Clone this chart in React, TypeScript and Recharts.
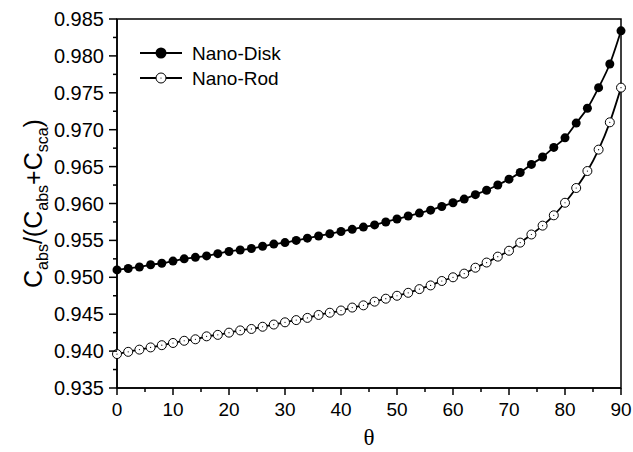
import { LineChart, Line, XAxis, YAxis, Legend, ReferenceArea } from 'recharts'

const theta = [
  0, 2, 4, 6, 8, 10, 12, 14, 16, 18, 20, 22, 24, 26, 28, 30, 32, 34, 36, 38, 40, 42, 44,
  46, 48, 50, 52, 54, 56, 58, 60, 62, 64, 66, 68, 70, 72, 74, 76, 78, 80, 82, 84, 86, 88, 90,
]

const nanoDisk = [
  0.951, 0.9512, 0.9514, 0.9517, 0.9519, 0.9522, 0.9525, 0.9527, 0.9529, 0.9532, 0.9535,
  0.9537, 0.9539, 0.9542, 0.9545, 0.9547, 0.955, 0.9553, 0.9556, 0.9559, 0.9562, 0.9565,
  0.9568, 0.9571, 0.9575, 0.9579, 0.9583, 0.9587, 0.9591, 0.9596, 0.9601, 0.9606, 0.9612,
  0.9618, 0.9625, 0.9633, 0.9642, 0.9653, 0.9663, 0.9676, 0.9689, 0.9709, 0.9729, 0.9757,
  0.9789, 0.9834,
]

const nanoRod = [
  0.9396, 0.9399, 0.9402, 0.9405, 0.9408, 0.9411, 0.9414, 0.9416, 0.942, 0.9422, 0.9425,
  0.9428, 0.943, 0.9433, 0.9436, 0.9439, 0.9442, 0.9445, 0.9449, 0.9452, 0.9455, 0.9459,
  0.9462, 0.9467, 0.9471, 0.9475, 0.9479, 0.9484, 0.9489, 0.9495, 0.95, 0.9505, 0.9513,
  0.952, 0.9528, 0.9536, 0.9547, 0.9558, 0.957, 0.9584, 0.9601, 0.9621, 0.9644, 0.9673,
  0.971, 0.9757,
]

const xTicks = [0, 5, 10, 15, 20, 25, 30, 35, 40, 45, 50, 55, 60, 65, 70, 75, 80, 85, 90]
const yTicks = [
  0.935, 0.9375, 0.94, 0.9425, 0.945, 0.9475, 0.95, 0.9525, 0.955, 0.9575, 0.96, 0.9625,
  0.965, 0.9675, 0.97, 0.9725, 0.975, 0.9775, 0.98, 0.9825, 0.985,
]

const data = theta.map((t, i) => ({ theta: t, disk: nanoDisk[i], rod: nanoRod[i] }))

const FONT = '"Liberation Sans", Arial, sans-serif'

function XTick({ x, y, payload }: any) {
  const v = payload.value as number
  const major = v % 10 === 0
  return (
    <g>
      <line x1={x} x2={x} y1={y} y2={y + (major ? 7 : 4)} stroke="#000" strokeWidth={1.5} />
      {major && (
        <text x={x} y={y + 28} textAnchor="middle" fontSize={19} fontFamily={FONT} fill="#000">
          {v}
        </text>
      )}
    </g>
  )
}

function YTick({ x, y, payload }: any) {
  const v = payload.value as number
  const major = Math.round(v * 10000) % 50 === 0
  return (
    <g>
      <line x1={x - (major ? 8 : 4)} x2={x} y1={y} y2={y} stroke="#000" strokeWidth={1.5} />
      {major && (
        <text x={x - 13} y={y + 7} textAnchor="end" fontSize={20} fontFamily={FONT} fill="#000">
          {v.toFixed(3)}
        </text>
      )}
    </g>
  )
}

function OpenDot({ cx, cy, index }: any) {
  return (
    <g key={`rod-${index}`}>
      <circle cx={cx} cy={cy} r={4.5} fill="#fff" stroke="#000" strokeWidth={1} />
      <circle cx={cx} cy={cy} r={0.6} fill="#000" />
    </g>
  )
}

function LegendBox({ payload }: any) {
  const items = payload ?? []
  return (
    <svg width={200} height={60} style={{ display: 'block' }}>
      {items.map((p: any, i: number) => {
        const y = 15 + i * 25
        const filled = p.dataKey === 'disk'
        return (
          <g key={p.value}>
            <line x1={10} x2={52} y1={y} y2={y} stroke="#000" strokeWidth={1.8} />
            {filled ? (
              <circle cx={31} cy={y} r={5.5} fill="#000" />
            ) : (
              <>
                <circle cx={31} cy={y} r={5} fill="#fff" stroke="#000" strokeWidth={1} />
                <circle cx={31} cy={y} r={0.6} fill="#000" />
              </>
            )}
            <text x={62} y={y + 7} fontSize={19} fontFamily={FONT} fill="#000">
              {p.value}
            </text>
          </g>
        )
      })}
    </svg>
  )
}

function YTitle({ viewBox }: any) {
  const cx = 42
  const cy = viewBox.y + viewBox.height / 2
  return (
    <text
      x={cx}
      y={cy}
      transform={`rotate(-90 ${cx} ${cy})`}
      textAnchor="middle"
      fontFamily={FONT}
      fontSize={25}
      fill="#000"
    >
      <tspan>C</tspan>
      <tspan fontSize={16} dy={6}>abs</tspan>
      <tspan dy={-6}>/(C</tspan>
      <tspan fontSize={16} dy={6}>abs</tspan>
      <tspan dy={-6}>+C</tspan>
      <tspan fontSize={16} dy={6}>sca</tspan>
      <tspan dy={-6}>)</tspan>
    </text>
  )
}

function XTitle({ viewBox }: any) {
  return (
    <text
      x={viewBox.x + viewBox.width / 2}
      y={viewBox.y + 57}
      textAnchor="middle"
      fontFamily='"Liberation Serif", "Times New Roman", serif'
      fontSize={23}
      fill="#000"
    >
      θ
    </text>
  )
}

export default function App() {
  return (
    <div style={{ position: 'absolute', left: 0, top: 0, background: '#fff' }}>
      <LineChart width={633} height={452} data={data} margin={{ top: 19, right: 12, bottom: 0, left: 0 }}>
        <XAxis
          dataKey="theta"
          type="number"
          domain={[0, 90]}
          ticks={xTicks}
          interval={0}
          height={64}
          tickSize={0}
          tickMargin={0}
          tickLine={false}
          tick={<XTick />}
          axisLine={{ stroke: '#000', strokeWidth: 1.5 }}
          label={<XTitle />}
        />
        <YAxis
          type="number"
          domain={[0.935, 0.985]}
          ticks={yTicks}
          interval={0}
          width={117}
          tickSize={0}
          tickMargin={0}
          tickLine={false}
          tick={<YTick />}
          axisLine={{ stroke: '#000', strokeWidth: 1.5 }}
          allowDataOverflow
          label={<YTitle />}
        />
        <ReferenceArea
          x1={0}
          x2={90}
          y1={0.935}
          y2={0.985}
          fill="none"
          stroke="#000"
          strokeWidth={1.5}
          ifOverflow="visible"
        />
        <Line
          type="monotone"
          dataKey="disk"
          name="Nano-Disk"
          stroke="#000"
          strokeWidth={1.8}
          dot={{ r: 4.5, fill: '#000', stroke: '#000', strokeWidth: 0 }}
          isAnimationActive={false}
        />
        <Line
          type="monotone"
          dataKey="rod"
          name="Nano-Rod"
          stroke="#000"
          strokeWidth={1.8}
          dot={<OpenDot />}
          isAnimationActive={false}
        />
        <Legend
          layout="vertical"
          align="center"
          verticalAlign="middle"
          content={<LegendBox />}
          wrapperStyle={{ left: 130, top: 38, width: 200, height: 60 }}
        />
      </LineChart>
    </div>
  )
}
